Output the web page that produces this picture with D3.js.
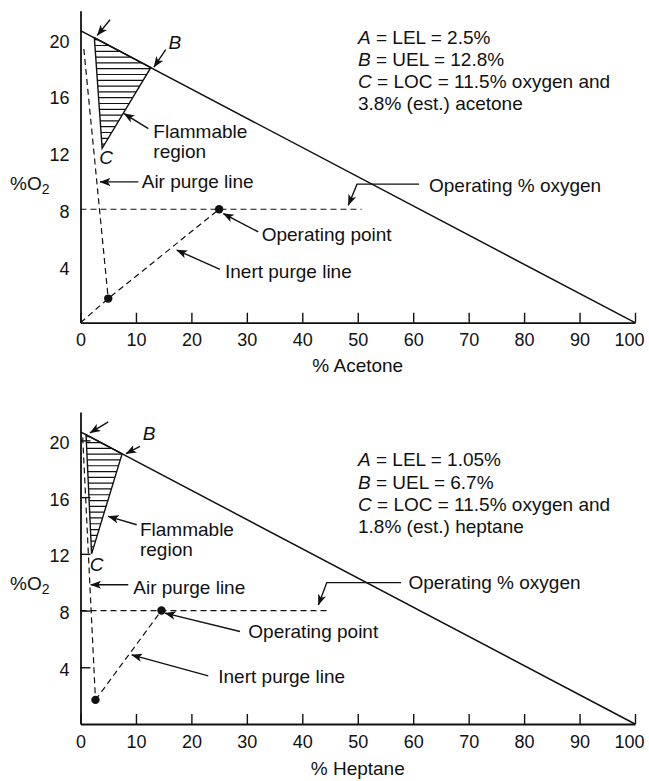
<!DOCTYPE html>
<html>
<head>
<meta charset="utf-8">
<script src="https://cdn.jsdelivr.net/npm/d3@7/dist/d3.min.js"></script>
<style>
  body { margin: 0; background: #fff; }
  svg text { font-family: "Liberation Sans", Arial, sans-serif; fill: #111; }
</style>
</head>
<body>
<div id="chart"></div>
<script>
// values
var xTicks = [0, 10, 20, 30, 40, 50, 60, 70, 80, 90, 100],
    yTicks = [4, 8, 12, 16, 20],
    airLine = [[0, 20.6], [100, 0]];

var acetoneRegion = [[2.5, 20.1], [12.7, 18.0], [3.9, 12.3]],
    acetoneAirPurge = [[0.6, 19.3], [5.0, 1.7]],
    acetoneInertPurge = [[0, 0], [5.0, 1.7], [25, 8]],
    acetoneOpLine = [[0, 8], [50.7, 8]],
    acetonePoints = [[5.0, 1.7], [25, 8]],
    acetoneNotes = [['A', ' = LEL = 2.5%'], ['B', ' = UEL = 12.8%'],
                    ['C', ' = LOC = 11.5% oxygen and'], ['', '3.8% (est.) acetone']];

var heptaneRegion = [[1.0, 20.4], [7.5, 19.05], [2.0, 12.0]],
    heptaneAirPurge = [[0.4, 20.2], [2.7, 1.7]],
    heptaneInertPurge = [[2.7, 1.7], [14.6, 8]],
    heptaneOpLine = [[0, 8], [45, 8]],
    heptanePoints = [[2.7, 1.7], [14.6, 8]],
    heptaneNotes = [['A', ' = LEL = 1.05%'], ['B', ' = UEL = 6.7%'],
                    ['C', ' = LOC = 11.5% oxygen and'], ['', '1.8% (est.) heptane']];

var WIDTH = 649,
    HEIGHT = 781,
    FONT = 19,
    TICK_FONT = 18;

var svg = d3.select('#chart')
  .append('svg')
  .attr('width', WIDTH)
  .attr('height', HEIGHT);

var defs = svg.append('defs');
defs.append('marker')
  .attr('id', 'head')
  .attr('viewBox', '0 -4 10 8')
  .attr('refX', 9.5)
  .attr('refY', 0)
  .attr('markerWidth', 11)
  .attr('markerHeight', 9)
  .attr('markerUnits', 'userSpaceOnUse')
  .attr('orient', 'auto')
  .append('path')
  .attr('d', 'M0,-3.8 L10,0 L0,3.8 L2.5,0 Z')
  .attr('fill', '#111');

var x = d3.scaleLinear().domain([0, 100]).range([80.5, 635]);

// one panel = one diagram
var drawPanel = function (p) {
  var y = d3.scaleLinear().domain([0, 22]).range([p.bottom, p.bottom - 22 * 14.18]),
      g = svg.append('g'),
      line = d3.line().x(function (d) { return x(d[0]); }).y(function (d) { return y(d[1]); });

  // hatched flammable region
  defs.append('clipPath')
    .attr('id', 'clip-' + p.id)
    .append('path')
    .attr('d', line(p.region) + 'Z');

  var top = d3.min(p.region, function (d) { return y(d[1]); }),
      bot = d3.max(p.region, function (d) { return y(d[1]); });

  g.append('g')
    .attr('clip-path', 'url(#clip-' + p.id + ')')
    .selectAll('line')
    .data(d3.range(top + 2, bot, 5.8))
    .enter()
    .append('line')
    .attr('x1', x(0))
    .attr('x2', x(20))
    .attr('y1', function (d) { return d; })
    .attr('y2', function (d) { return d; })
    .attr('stroke', '#111')
    .attr('stroke-width', 1.2);

  g.append('path')
    .attr('d', line(p.region) + 'Z')
    .attr('fill', 'none')
    .attr('stroke', '#111')
    .attr('stroke-width', 1.4);

  // air line
  g.append('path')
    .attr('d', line(airLine))
    .attr('fill', 'none')
    .attr('stroke', '#111')
    .attr('stroke-width', 1.5);

  // dashed lines
  [p.airPurge, p.inertPurge, p.opLine].forEach(function (d) {
    g.append('path')
      .attr('d', line(d))
      .attr('fill', 'none')
      .attr('stroke', '#111')
      .attr('stroke-width', 1.2)
      .attr('stroke-dasharray', '6,4');
  });

  g.selectAll('circle.pt')
    .data(p.points)
    .enter()
    .append('circle')
    .attr('class', 'pt')
    .attr('cx', function (d) { return x(d[0]); })
    .attr('cy', function (d) { return y(d[1]); })
    .attr('r', 4.2)
    .attr('fill', '#111');

  // axes
  var xAxis = g.append('g')
    .attr('transform', 'translate(0,' + y(0) + ')')
    .call(d3.axisBottom(x).tickValues(xTicks).tickSizeInner(-10).tickSizeOuter(0).tickPadding(11));

  var yAxis = g.append('g')
    .attr('transform', 'translate(' + x(0) + ',0)')
    .call(d3.axisLeft(y).tickValues(yTicks).tickSizeInner(p.yTickSize).tickSizeOuter(0).tickPadding(11));

  [xAxis, yAxis].forEach(function (a) {
    a.attr('font-family', null).attr('font-size', null);
    a.select('.domain').attr('stroke', '#111').attr('stroke-width', 1.8);
    a.selectAll('.tick line').attr('stroke', '#111').attr('stroke-width', 1.4);
    a.selectAll('.tick text').attr('font-size', TICK_FONT).attr('fill', '#111');
  });
  yAxis.selectAll('.tick text').attr('dy', '0.45em');
  // last label sits against the right edge, as in the original
  xAxis.selectAll('.tick text')
    .filter(function (d) { return d === 100; })
    .attr('text-anchor', 'end')
    .attr('x', 9);

  g.append('text')
    .attr('x', x(50))
    .attr('y', y(0) + p.titleGap)
    .attr('text-anchor', 'middle')
    .attr('dominant-baseline', 'central')
    .attr('font-size', FONT)
    .text(p.title);

  var oLabel = g.append('text')
    .attr('x', 10)
    .attr('y', y(0) - p.oLabelGap)
    .attr('dominant-baseline', 'central')
    .attr('font-size', FONT);
  oLabel.append('tspan').text('%O');
  oLabel.append('tspan').attr('font-size', 14).attr('dy', 6).text('2');

  // arrows: tip in data units, tail offset in pixels
  p.arrows.forEach(function (a) {
    var tx = x(a.tip[0]), ty = y(a.tip[1]),
        pts = [[tx + a.tail[0], ty + a.tail[1]]];
    if (a.bend) pts.unshift([tx + a.tail[0] + a.bend, ty + a.tail[1]]);
    pts.push([tx, ty]);
    g.append('path')
      .attr('d', d3.line()(pts))
      .attr('fill', 'none')
      .attr('stroke', '#111')
      .attr('stroke-width', 1.4)
      .attr('marker-end', 'url(#head)');
    a.text.forEach(function (t, i) {
      g.append('text')
        .attr('x', pts[0][0] + a.txt[0])
        .attr('y', pts[0][1] + a.txt[1] + i * 20)
        .attr('dominant-baseline', 'central')
        .attr('font-size', FONT)
        .text(t);
    });
  });

  p.letters.forEach(function (l) {
    g.append('text')
      .attr('x', x(l.at[0]) + l.off[0])
      .attr('y', y(l.at[1]) + l.off[1])
      .attr('text-anchor', 'middle')
      .attr('dominant-baseline', 'central')
      .attr('font-size', FONT)
      .attr('font-style', 'italic')
      .text(l.t);
  });

  var notes = g.selectAll('text.note')
    .data(p.notes)
    .enter()
    .append('text')
    .attr('class', 'note')
    .attr('x', 358)
    .attr('y', function (d, i) { return p.notesTop + i * 22.2; })
    .attr('dominant-baseline', 'central')
    .attr('font-size', FONT);
  notes.append('tspan').attr('font-style', 'italic').text(function (d) { return d[0]; });
  notes.append('tspan').text(function (d) { return d[1]; });
};

drawPanel({
  id: 'acetone',
  bottom: 322.7,
  yTickSize: 0,
  title: '% Acetone',
  titleGap: 43,
  oLabelGap: 139.5,
  notesTop: 36.7,
  region: acetoneRegion,
  airPurge: acetoneAirPurge,
  inertPurge: acetoneInertPurge,
  opLine: acetoneOpLine,
  points: acetonePoints,
  notes: acetoneNotes,
  letters: [{ t: 'B', at: acetoneRegion[1], off: [24, -25] }, { t: 'C', at: acetoneRegion[2], off: [4, 9] }],
  arrows: [
    { tip: [3.03, 20.26], tail: [12.7, -15.7], txt: [0, 0], text: [] },
    { tip: [13.25, 18.03], tail: [11.7, -17.4], txt: [0, 0], text: [] },
    { tip: [7.85, 14.75], tail: [24.3, 15], txt: [5, 3.4], text: ['Flammable', 'region'] },
    { tip: [3.52, 9.93], tail: [38.3, 0], txt: [3.4, 0], text: ['Air purge line'] },
    { tip: [25.75, 7.7], tail: [35, 18.4], txt: [3.4, 2.3], text: ['Operating point'] },
    { tip: [17.35, 5.12], tail: [43.3, 19.3], txt: [5, 2.4], text: ['Inert purge line'] },
    { tip: [48.3, 8.29], tail: [8.7, -21], bend: 62, txt: [10, 1], text: ['Operating % oxygen'] }
  ]
});

drawPanel({
  id: 'heptane',
  bottom: 724,
  yTickSize: -10,
  title: '% Heptane',
  titleGap: 44,
  oLabelGap: 140.7,
  notesTop: 459.3,
  region: heptaneRegion,
  airPurge: heptaneAirPurge,
  inertPurge: heptaneInertPurge,
  opLine: heptaneOpLine,
  points: heptanePoints,
  notes: heptaneNotes,
  letters: [{ t: 'B', at: heptaneRegion[1], off: [27, -20] }, { t: 'C', at: heptaneRegion[2], off: [5, 11] }],
  arrows: [
    { tip: [1.71, 20.53], tail: [18.3, -11], txt: [0, 0], text: [] },
    { tip: [8.2, 19.06], tail: [14, -7.3], txt: [0, 0], text: [] },
    { tip: [5.01, 14.64], tail: [28.4, 8.3], txt: [3.3, 5], text: ['Flammable', 'region'] },
    { tip: [1.84, 9.82], tail: [37.6, 0], txt: [5, 2.3], text: ['Air purge line'] },
    { tip: [15.24, 7.82], tail: [75, 18.4], txt: [8.3, 0], text: ['Operating point'] },
    { tip: [9.23, 4.87], tail: [76.6, 21], txt: [10, 0.7], text: ['Inert purge line'] },
    { tip: [42.9, 8.4], tail: [8.4, -22.3], bend: 74.3, txt: [7.3, 0], text: ['Operating % oxygen'] }
  ]
});
</script>
</body>
</html>
